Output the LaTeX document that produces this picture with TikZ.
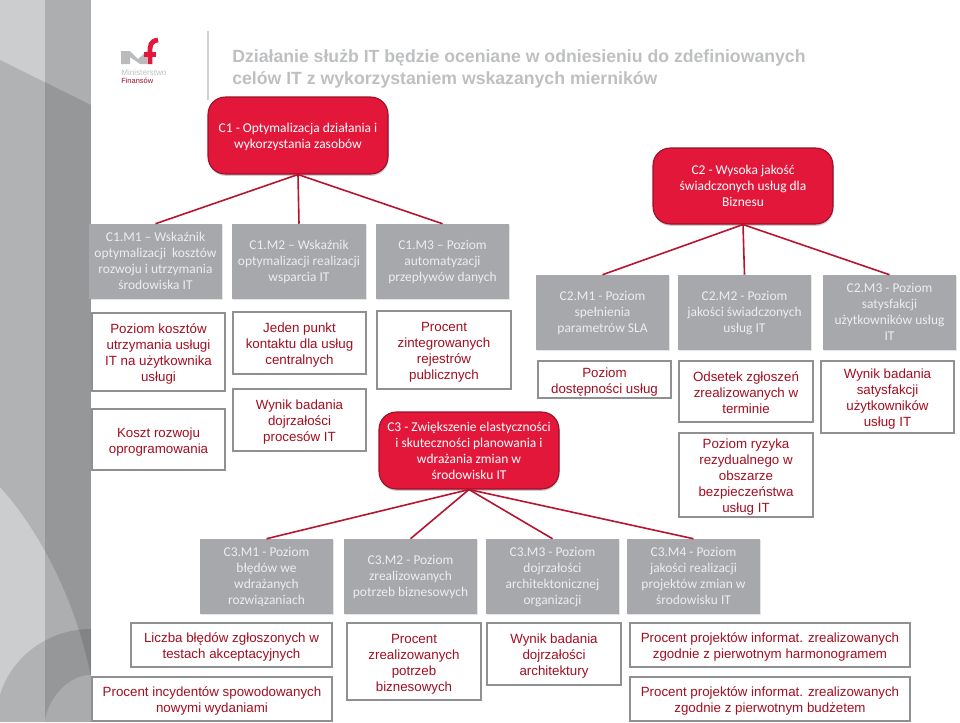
\documentclass[tikz,border=0pt]{standalone}
\usepackage{fontspec}
\setmainfont{Liberation Sans}
\newfontfamily\carl{Carlito}
\usetikzlibrary{shadows}
\definecolor{goalred}{HTML}{E3173A}
\definecolor{goaledge}{HTML}{9A1029}
\definecolor{linkred}{HTML}{B8142F}
\definecolor{metricgrey}{HTML}{A6A8AB}
\definecolor{metrictext}{HTML}{ECEDEE}
\definecolor{frameg}{HTML}{8E9092}
\definecolor{redtext}{HTML}{A30E20}
\definecolor{titleg}{HTML}{BDBFC1}
\definecolor{bandbase}{HTML}{CBCDCF}
\definecolor{logog}{HTML}{B9BBBD}
\definecolor{rulegrey}{HTML}{CFD0D2}
\tikzset{
  goal/.style={draw=goaledge,line width=0.8pt,fill=goalred,rounded corners=13pt,text=white,inner sep=0pt,
    font=\carl\fontsize{10.1}{12}\selectfont,/utils/exec={\def\bxdrop{1pt}},
    drop shadow={shadow xshift=0.4pt,shadow yshift=-1.4pt,opacity=.2,fill=black}},
  metric/.style={fill=metricgrey,text=metrictext,inner sep=0pt,
    font=\carl\fontsize{10.1}{12}\selectfont,/utils/exec={\def\bxdrop{0.8pt}},
    drop shadow={shadow xshift=0.4pt,shadow yshift=-1pt,opacity=.1,fill=black}},
  measure/.style={draw=frameg,line width=2pt,fill=white,text=redtext,inner sep=0pt,
    font=\fontsize{10}{12}\selectfont,/utils/exec={\def\bxdrop{2pt}}},
  link/.style={draw=linkred,line width=1.2pt}
}
\newcommand{\bx}[7]{%
  \pgfmathsetmacro\bxw{(#5-#3)*0.75}%
  \pgfmathsetmacro\bxh{(#6-#4)*0.75}%
  \pgfmathsetmacro\bxcx{(#3+#5)/2}%
  \pgfmathsetmacro\bxcy{(#4+#6)/2}%
  \node[#2,minimum width=\bxw pt,minimum height=\bxh pt] (#1) at (\bxcx,\bxcy)
    {\raisebox{-\bxdrop}[\height][\depth]{\begin{tabular}{@{}c@{}}#7\end{tabular}}};}
\begin{document}
\begin{tikzpicture}[x=0.75pt,y=-0.75pt]
\useasboundingbox (0,0) rectangle (960,722);
% side band
\fill[bandbase] (0,0) rectangle (91,722);
\fill[black,opacity=.15] (45,0) rectangle (91,722);
\fill[black,opacity=.13] (0,60) -- (91,105) -- (91,677) .. controls (75,595) and (35,525) .. (0,487) -- cycle;
\fill[black,opacity=.13] (0,695) .. controls (12,655) and (50,629) .. (91,629) -- (91,722) -- (0,722) -- cycle;
\fill[white,opacity=.2] (45,720) .. controls (50,695) and (70,675) .. (91,675) -- (91,722) -- (45,722) -- cycle;
% logo
\fill[logog] (121,51) -- (130,51) -- (138,59) -- (147,51) -- (147,64) -- (140,64) -- (130,57) -- (130,64) -- (121,64) -- cycle;
\draw[goalred,line width=3.6pt] (158,40) .. controls (150,41) and (150,46) .. (150,52) -- (150,64);
\fill[goalred] (144,52) rectangle (156,57);
\node[text=titleg,inner sep=0pt,anchor=west,font=\fontsize{6.1}{6}\selectfont] (logoa) at (121,73) {Ministerstwo};
\node[text=goaledge,inner sep=0pt,anchor=west,font=\fontsize{5.6}{6}\selectfont] (logob) at (121,81) {Finansów};
\draw[rulegrey,line width=1pt] (208,31) -- (208,100);
% title
\node[anchor=north west,inner sep=0pt,text=titleg,align=left,font=\bfseries\fontsize{13.25}{16.5}\selectfont] (title) at (232,49)
  {Działanie służb IT będzie oceniane w odniesieniu do zdefiniowanych\\celów IT z wykorzystaniem wskazanych mierników};
% goals
\bx{c1}{goal}{208}{97}{388}{174}{C1 - Optymalizacja działania i\\wykorzystania zasobów}
\bx{c2}{goal}{653}{148}{833}{224}{C2 - Wysoka jakość\\świadczonych usług dla\\Biznesu}
\bx{c3}{goal}{379}{412}{559}{489}{C3 - Zwiększenie elastyczności\\i skuteczności planowania i\\wdrażania zmian w\\środowisku IT}
% C1 metrics
\bx{ca}{metric}{89}{224}{222}{299}{C1.M1 – Wskaźnik\\optymalizacji\ \ kosztów\\rozwoju i utrzymania\\środowiska IT}
\bx{cb}{metric}{232}{224}{366}{299}{C1.M2 – Wskaźnik\\optymalizacji realizacji\\wsparcia IT}
\bx{cc}{metric}{376}{224}{509}{299}{C1.M3 – Poziom\\automatyzacji\\przepływów danych}
\bx{ma}{measure}{92}{313}{225}{391}{Poziom kosztów\\utrzymania usługi\\IT na użytkownika\\usługi}
\bx{mb}{measure}{92}{409}{225}{470}{Koszt rozwoju\\oprogramowania}
\bx{mc}{measure}{233}{312}{366}{374}{Jeden punkt\\kontaktu dla usług\\centralnych}
\bx{md}{measure}{233}{389}{366}{451}{Wynik badania\\dojrzałości\\procesów IT}
\bx{me}{measure}{377}{311}{511}{389}{Procent\\zintegrowanych\\rejestrów\\publicznych}
% C2 metrics
\bx{da}{metric}{536}{275}{669}{350}{C2.M1 - Poziom\\spełnienia\\parametrów SLA}
\bx{db}{metric}{678}{275}{811}{350}{C2.M2 - Poziom\\jakości świadczonych\\usług IT}
\bx{dc}{metric}{823}{275}{956}{350}{C2.M3 - Poziom\\satysfakcji\\użytkowników usług\\IT}
\bx{na}{measure}{538}{361}{671}{398}{Poziom\\dostępności usług}
\bx{nb}{measure}{679}{361}{813}{422}{Odsetek zgłoszeń\\zrealizowanych w\\terminie}
\bx{nc}{measure}{679}{433}{813}{517}{Poziom ryzyka\\rezydualnego w\\obszarze\\bezpieczeństwa\\usług IT}
\bx{nd}{measure}{821}{361}{954}{433}{Wynik badania\\satysfakcji\\użytkowników\\usług IT}
% C3 metrics
\bx{ea}{metric}{200}{539}{333}{614}{C3.M1 - Poziom\\błędów we\\wdrażanych\\rozwiązaniach}
\bx{eb}{metric}{344}{539}{477}{614}{C3.M2 - Poziom\\zrealizowanych\\potrzeb biznesowych}
\bx{ec}{metric}{486}{539}{619}{614}{C3.M3 - Poziom\\dojrzałości\\architektonicznej\\organizacji}
\bx{ed}{metric}{627}{539}{760}{614}{C3.M4 - Poziom\\jakości realizacji\\projektów zmian w\\środowisku IT}
\bx{oa}{measure}{131}{623}{332}{667}{Liczba błędów zgłoszonych w\\testach akceptacyjnych}
\bx{ob}{measure}{92}{677}{332}{721}{Procent incydentów spowodowanych\\nowymi wydaniami}
\bx{oc}{measure}{347}{623}{481}{700}{Procent\\zrealizowanych\\potrzeb\\biznesowych}
\bx{od}{measure}{487}{623}{621}{685}{Wynik badania\\dojrzałości\\architektury}
\bx{oe}{measure}{630}{623}{910}{667}{Procent projektów informat. zrealizowanych\\zgodnie z pierwotnym harmonogramem}
\bx{of}{measure}{630}{677}{910}{721}{Procent projektów informat. zrealizowanych\\zgodnie z pierwotnym budżetem}
% connectors
\foreach \t in {ca,cb,cc} \draw[link] (c1.south) -- (\t.north);
\foreach \t in {da,db,dc} \draw[link] (c2.south) -- (\t.north);
\foreach \t in {ea,eb,ec,ed} \draw[link] (c3.south) -- (\t.north);
\end{tikzpicture}
\end{document}
